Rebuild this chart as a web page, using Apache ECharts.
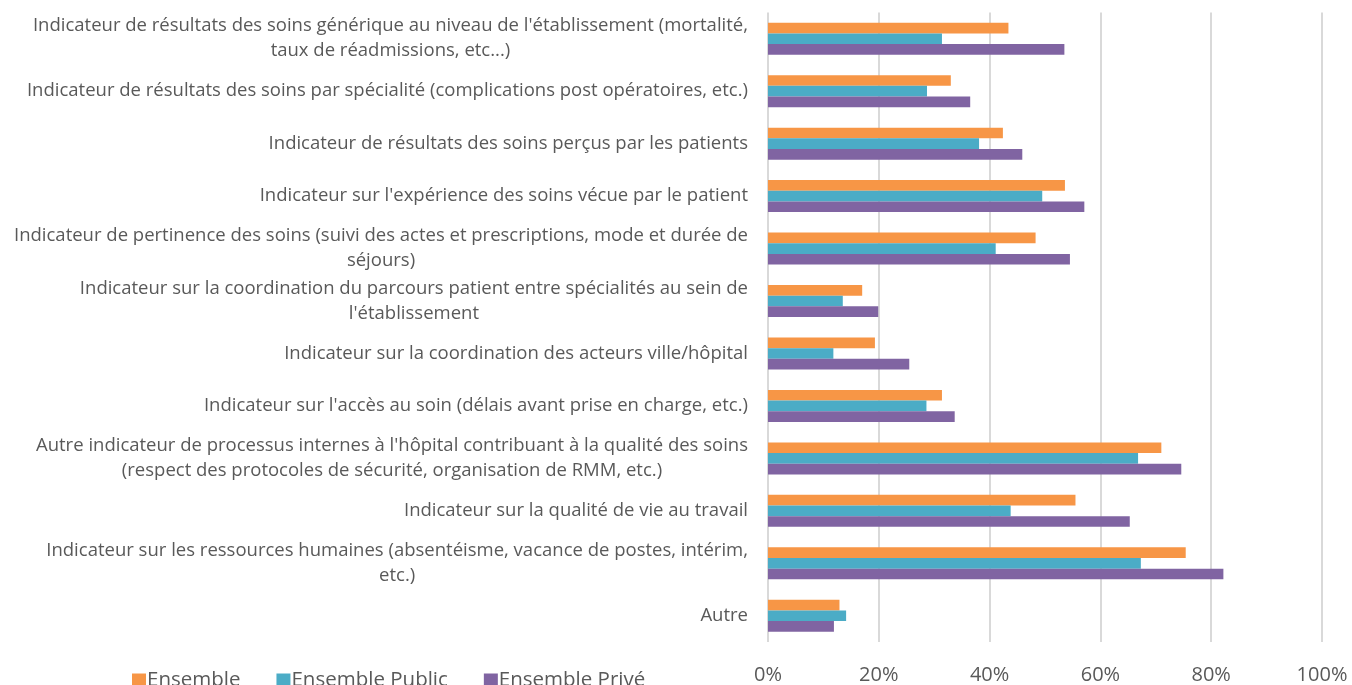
<!DOCTYPE html>
<html>
<head>
<meta charset="utf-8">
<script src="https://cdn.jsdelivr.net/npm/echarts@6/dist/echarts.min.js"></script>
<style>
  html, body { margin: 0; padding: 0; background: #ffffff; }
  #chart { width: 1352px; height: 685px; }
</style>
</head>
<body>
<div id="chart"></div>
<script>
// Indicator categories (top to bottom)
const categories = [
  "Indicateur de résultats des soins générique au niveau de l'établissement (mortalité,\ntaux de réadmissions, etc...)",
  "Indicateur de résultats des soins par spécialité (complications post opératoires, etc.)",
  "Indicateur de résultats des soins perçus par les patients",
  "Indicateur sur l'expérience des soins vécue par le patient",
  "Indicateur de pertinence des soins (suivi des actes et prescriptions, mode et durée de\nséjours)",
  "Indicateur sur la coordination du parcours patient entre spécialités au sein de\nl'établissement",
  "Indicateur sur la coordination des acteurs ville/hôpital",
  "Indicateur sur l'accès au soin (délais avant prise en charge, etc.)",
  "Autre indicateur de processus internes à l'hôpital contribuant à la qualité des soins\n(respect des protocoles de sécurité, organisation de RMM, etc.)",
  "Indicateur sur la qualité de vie au travail",
  "Indicateur sur les ressources humaines (absentéisme, vacance de postes, intérim,\netc.)",
  "Autre"
];

// Share of respondents (%)
const ensemble       = [43.4, 33.0, 42.4, 53.6, 48.3, 17.0, 19.3, 31.4, 71.0, 55.5, 75.4, 12.9];
const ensemblePublic = [31.4, 28.7, 38.1, 49.5, 41.1, 13.5, 11.8, 28.6, 66.8, 43.8, 67.3, 14.1];
const ensemblePrive  = [53.5, 36.5, 45.9, 57.1, 54.5, 19.9, 25.5, 33.7, 74.6, 65.3, 82.2, 11.9];

const seriesNames = ["Ensemble", "Ensemble Public", "Ensemble Privé"];
const xTicks = [0, 20, 40, 60, 80, 100];

const FONT = "'Open Sans', 'Noto Sans', sans-serif";
const TEXT = "#595959";

const chart = echarts.init(document.getElementById('chart'), null, { renderer: 'canvas' });

function barSeries(name, data, color) {
  return {
    name: name,
    type: 'bar',
    data: data,
    barGap: '0%',
    barCategoryGap: '39%',
    itemStyle: { color: color },
    emphasis: { disabled: true }
  };
}

chart.setOption({
  animation: false,
  grid: { left: 768, right: 30, top: 12.5, bottom: 37.5, containLabel: false },
  legend: {
    data: seriesNames,
    left: 127,
    top: 665,
    itemWidth: 14,
    itemHeight: 14,
    itemGap: 36,
    itemStyle: { borderWidth: 0 },
    icon: 'rect',
    textStyle: { color: TEXT, fontFamily: FONT, fontSize: 20.5, padding: [0, 0, 0, -4] }
  },
  xAxis: {
    type: 'value',
    min: xTicks[0],
    max: xTicks[xTicks.length - 1],
    interval: 20,
    axisLine: { show: false },
    axisTick: { show: false },
    splitLine: { show: true, lineStyle: { color: '#d9d9d9', width: 2 } },
    axisLabel: {
      color: TEXT,
      fontFamily: FONT,
      fontSize: 20,
      margin: 23,
      formatter: v => v + '%'
    }
  },
  yAxis: {
    type: 'category',
    data: categories,
    inverse: true,
    axisLine: { show: false },
    axisTick: { show: false },
    splitLine: { show: false },
    axisLabel: {
      margin: 20,
      align: 'right',
      formatter: v => v.split('\n').map(l => '{c|' + l + '}').join('\n'),
      rich: {
        c: { align: 'center', color: TEXT, fontFamily: FONT, fontSize: 18.5, lineHeight: 25 }
      }
    }
  },
  series: [
    barSeries(seriesNames[0], ensemble, '#F79646'),
    barSeries(seriesNames[1], ensemblePublic, '#4BACC6'),
    barSeries(seriesNames[2], ensemblePrive, '#8064A2')
  ]
});
</script>
</body>
</html>
